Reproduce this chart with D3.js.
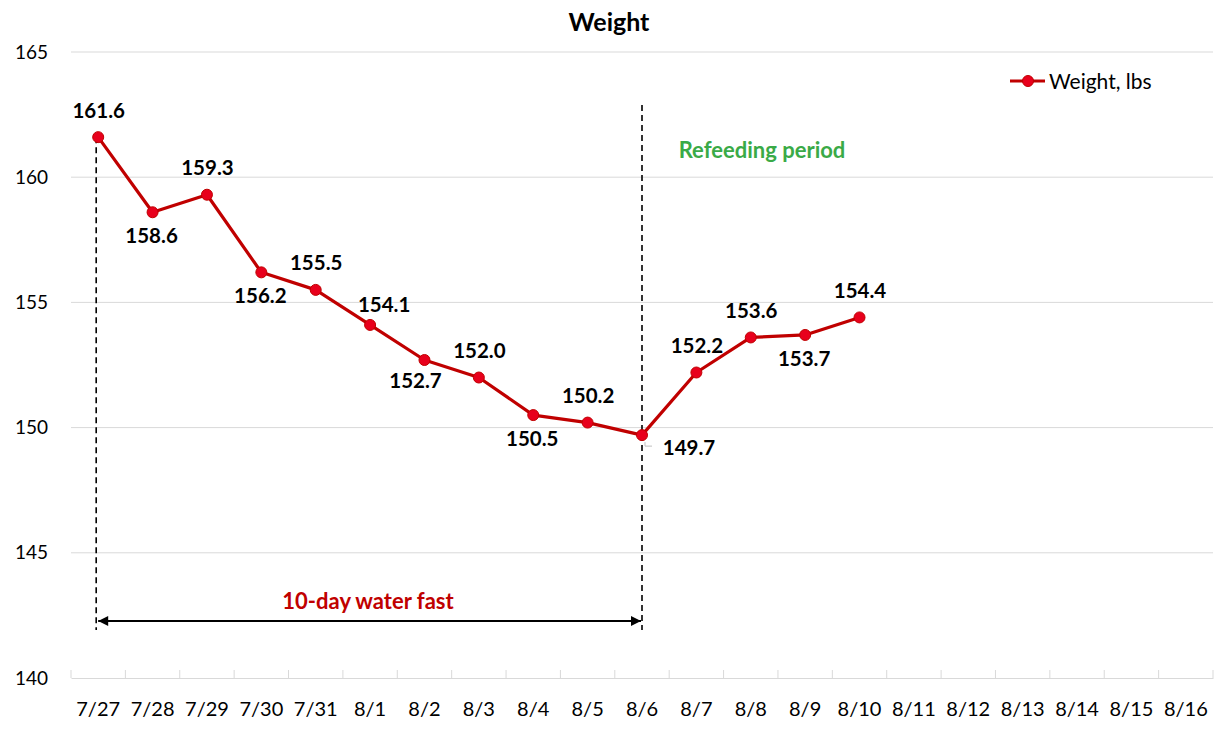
<!DOCTYPE html>
<html>
<head>
<meta charset="utf-8">
<script src="https://cdn.jsdelivr.net/npm/d3@7"></script>
<style>
  body { margin: 0; background: #fff; }
  svg text { font-family: Lato, "Open Sans", sans-serif; }
</style>
</head>
<body>
<div id="chart"></div>
<script>
// chart data
let dates = ["7/27", "7/28", "7/29", "7/30", "7/31", "8/1", "8/2", "8/3", "8/4", "8/5", "8/6",
    "8/7", "8/8", "8/9", "8/10", "8/11", "8/12", "8/13", "8/14", "8/15", "8/16"];
let weights = [161.6, 158.6, 159.3, 156.2, 155.5, 154.1, 152.7, 152.0, 150.5, 150.2, 149.7,
    152.2, 153.6, 153.7, 154.4];
// where each data label sits relative to its point
let labelSide = ["above", "below", "above", "below", "above", "aboveRight", "belowLeft", "above",
    "below", "above", "right", "above", "above", "below", "above"];
let yTicks = [140, 145, 150, 155, 160, 165];
let fastStart = "7/27";
let fastEnd = "8/6";

let w = 1223;
let h = 734;
let padLeft = 71, padRight = 1213, padTop = 52, padBottom = 678;

let svg = d3.select("#chart")
    .append("svg")
    .attr("width", w)
    .attr("height", h);

let xScale = d3.scaleBand().domain(dates).range([padLeft, padRight]);
let yScale = d3.scaleLinear().domain([140, 165]).range([padBottom, padTop]);
let cx = d => xScale(d) + xScale.bandwidth() / 2;

// gridlines
svg.append("g")
    .selectAll("line")
    .data(yTicks.slice(1))
    .enter()
    .append("line")
    .attr("x1", padLeft)
    .attr("x2", padRight)
    .attr("y1", d => yScale(d))
    .attr("y2", d => yScale(d))
    .attr("stroke", "#d9d9d9")
    .attr("stroke-width", 1);

// y axis labels
let yAxis = d3.axisLeft(yScale).tickValues(yTicks).tickSize(0).tickPadding(0);
let yAxisGroup = svg.append("g").attr("transform", "translate(48,0)").call(yAxis);
yAxisGroup.select(".domain").remove();
yAxisGroup.selectAll("text")
    .attr("font-size", 19)
    .attr("fill", "#000")
    .style("font-family", "Lato, sans-serif");

// x axis
let xAxis = d3.axisBottom(xScale).tickSize(0).tickPadding(24);
let xAxisGroup = svg.append("g").attr("transform", "translate(0," + padBottom + ")").call(xAxis);
xAxisGroup.select(".domain").attr("stroke", "#d9d9d9");
xAxisGroup.selectAll("text")
    .attr("font-size", 20)
    .attr("fill", "#000")
    .style("font-family", "Lato, sans-serif");
// tick marks between categories
let bounds = dates.map(d => xScale(d)).concat([padRight]);
svg.append("g")
    .selectAll("line")
    .data(bounds)
    .enter()
    .append("line")
    .attr("x1", d => d)
    .attr("x2", d => d)
    .attr("y1", padBottom)
    .attr("y2", padBottom - 8)
    .attr("stroke", "#d9d9d9");

// title
svg.append("text")
    .attr("x", 609)
    .attr("y", 31)
    .attr("text-anchor", "middle")
    .attr("font-size", 25)
    .attr("font-weight", "bold")
    .text("Weight");

// dashed markers for the fast
let arrowY = 621;
svg.append("line")
    .attr("x1", cx(fastStart) - 2).attr("x2", cx(fastStart) - 2)
    .attr("y1", yScale(weights[0])).attr("y2", 630)
    .attr("stroke", "#000").attr("stroke-width", 1.6).attr("stroke-dasharray", "6,4");
svg.append("line")
    .attr("x1", cx(fastEnd)).attr("x2", cx(fastEnd))
    .attr("y1", 105).attr("y2", 630)
    .attr("stroke", "#000").attr("stroke-width", 1.6).attr("stroke-dasharray", "6,4");

let defs = svg.append("defs");
defs.append("marker")
    .attr("id", "arrowhead")
    .attr("viewBox", "0 0 10 10")
    .attr("refX", 10).attr("refY", 5)
    .attr("markerWidth", 7).attr("markerHeight", 5)
    .attr("orient", "auto-start-reverse")
    .attr("markerUnits", "strokeWidth")
    .append("path")
    .attr("d", "M0,0 L10,5 L0,10 z")
    .attr("fill", "#000");

svg.append("line")
    .attr("x1", cx(fastStart)).attr("x2", cx(fastEnd) - 1)
    .attr("y1", arrowY).attr("y2", arrowY)
    .attr("stroke", "#000").attr("stroke-width", 2)
    .attr("marker-start", "url(#arrowhead)")
    .attr("marker-end", "url(#arrowhead)");

svg.append("text")
    .attr("x", 368).attr("y", 609)
    .attr("text-anchor", "middle")
    .attr("font-size", 22)
    .attr("font-weight", "bold")
    .attr("fill", "#c00000")
    .text("10-day water fast");

svg.append("text")
    .attr("x", 762).attr("y", 158)
    .attr("text-anchor", "middle")
    .attr("font-size", 22)
    .attr("font-weight", "bold")
    .attr("fill", "#3aaa47")
    .text("Refeeding period");

// the weight line
let points = weights.map((v, i) => ({ date: dates[i], value: v, side: labelSide[i] }));

let lineMaker = d3.line()
    .x(d => cx(d.date))
    .y(d => yScale(d.value));

svg.append("path")
    .datum(points)
    .attr("d", lineMaker)
    .attr("fill", "none")
    .attr("stroke", "#c00000")
    .attr("stroke-width", 3.2)
    .attr("stroke-linejoin", "round");

svg.selectAll(".dot")
    .data(points)
    .enter()
    .append("circle")
    .attr("class", "dot")
    .attr("cx", d => cx(d.date))
    .attr("cy", d => yScale(d.value))
    .attr("r", 5.5)
    .attr("fill", "#e8001c")
    .attr("stroke", "#c00000")
    .attr("stroke-width", 1);

// leader line for the label placed to the right
let leader = points.filter(d => d.side == "right");
svg.selectAll(".leader")
    .data(leader)
    .enter()
    .append("polyline")
    .attr("class", "leader")
    .attr("points", d => {
        let x = cx(d.date), y = yScale(d.value);
        return (x + 3) + "," + (y + 7) + " " + (x + 3) + "," + (y + 11) + " " + (x + 10) + "," + (y + 11);
    })
    .attr("fill", "none")
    .attr("stroke", "#bfbfbf")
    .attr("stroke-width", 1);

function labelOffset(side) {
    if (side == "above") return [0.5, -19.5];
    if (side == "below") return [-1, 31];
    if (side == "belowLeft") return [-9, 28.5];
    if (side == "aboveRight") return [14, -13];
    if (side == "right") return [47, 20];
    return [0, 0];
}

svg.selectAll(".label")
    .data(points)
    .enter()
    .append("text")
    .attr("class", "label")
    .attr("x", d => cx(d.date) + labelOffset(d.side)[0])
    .attr("y", d => yScale(d.value) + labelOffset(d.side)[1])
    .attr("text-anchor", "middle")
    .attr("font-size", 20.5)
    .attr("font-weight", "bold")
    .attr("fill", "#000")
    .text(d => d.value.toFixed(1));

// legend
let legend = svg.append("g").attr("transform", "translate(1010,81)");
legend.append("line")
    .attr("x1", 0).attr("x2", 35)
    .attr("y1", 0).attr("y2", 0)
    .attr("stroke", "#c00000").attr("stroke-width", 3.2);
legend.append("circle")
    .attr("cx", 18).attr("cy", 0).attr("r", 5.5)
    .attr("fill", "#e8001c").attr("stroke", "#c00000");
legend.append("text")
    .attr("x", 39).attr("y", 8)
    .attr("font-size", 21)
    .text("Weight, lbs");
</script>
</body>
</html>
